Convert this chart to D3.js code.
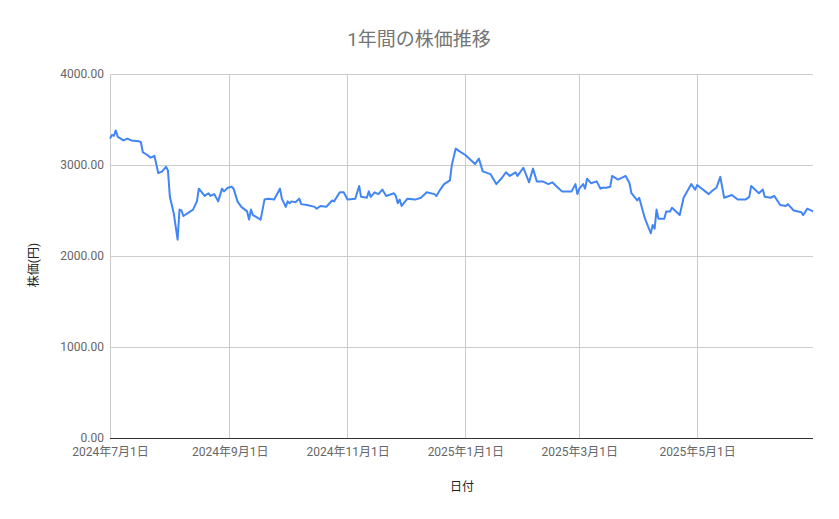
<!DOCTYPE html>
<html>
<head>
<meta charset="utf-8">
<script src="https://cdn.jsdelivr.net/npm/d3@7"></script>
<style>
  body { margin: 0; background: #fff; }
  svg text { font-family: Roboto, "Noto Sans CJK JP", sans-serif; }
</style>
</head>
<body>
<div id="vis"></div>
<script>
// dates (trading days) and closing prices
const dates = [
  "2024-07-01","2024-07-02","2024-07-03","2024-07-04","2024-07-05","2024-07-08","2024-07-10","2024-07-12",
  "2024-07-16","2024-07-17","2024-07-18","2024-07-21","2024-07-22","2024-07-24","2024-07-26","2024-07-28",
  "2024-07-30","2024-07-31","2024-08-01","2024-08-03","2024-08-05","2024-08-06","2024-08-07","2024-08-08",
  "2024-08-13","2024-08-15","2024-08-16","2024-08-19","2024-08-21","2024-08-22","2024-08-24","2024-08-26",
  "2024-08-28","2024-08-29","2024-08-31","2024-09-02","2024-09-03","2024-09-05","2024-09-07","2024-09-10",
  "2024-09-11","2024-09-12","2024-09-13","2024-09-17","2024-09-19","2024-09-21","2024-09-24","2024-09-27",
  "2024-09-28","2024-09-30","2024-10-01","2024-10-02","2024-10-03","2024-10-05","2024-10-07","2024-10-08",
  "2024-10-11","2024-10-15","2024-10-16","2024-10-18","2024-10-21","2024-10-24","2024-10-25","2024-10-28",
  "2024-10-30","2024-11-01","2024-11-05","2024-11-07","2024-11-08","2024-11-11","2024-11-12","2024-11-13",
  "2024-11-15","2024-11-17","2024-11-19","2024-11-21","2024-11-25","2024-11-26","2024-11-27","2024-11-28",
  "2024-11-29","2024-12-02","2024-12-06","2024-12-09","2024-12-12","2024-12-16","2024-12-17","2024-12-19",
  "2024-12-21","2024-12-24","2024-12-25","2024-12-27","2024-12-29","2025-01-01","2025-01-06","2025-01-08",
  "2025-01-10","2025-01-14","2025-01-17","2025-01-20","2025-01-22","2025-01-24","2025-01-27","2025-01-28",
  "2025-01-31","2025-02-03","2025-02-05","2025-02-07","2025-02-10","2025-02-13","2025-02-15","2025-02-17",
  "2025-02-20","2025-02-25","2025-02-27","2025-02-28","2025-03-01","2025-03-03","2025-03-04","2025-03-05",
  "2025-03-07","2025-03-10","2025-03-12","2025-03-13","2025-03-15","2025-03-17","2025-03-18","2025-03-21",
  "2025-03-25","2025-03-27","2025-03-28","2025-03-31","2025-04-01","2025-04-04","2025-04-07","2025-04-08",
  "2025-04-09","2025-04-10","2025-04-11","2025-04-14","2025-04-15","2025-04-17","2025-04-18","2025-04-22",
  "2025-04-24","2025-04-28","2025-04-30","2025-05-01","2025-05-07","2025-05-09","2025-05-11","2025-05-13",
  "2025-05-15","2025-05-19","2025-05-22","2025-05-26","2025-05-28","2025-05-29","2025-06-02","2025-06-04",
  "2025-06-05","2025-06-08","2025-06-10","2025-06-13","2025-06-16","2025-06-17","2025-06-20","2025-06-24",
  "2025-06-25","2025-06-27","2025-06-30"
];
const prices = [
  3290,3330,3320,3380,3310,3270,3290,3270,
  3260,3250,3140,3100,3080,3100,2910,2930,
  2980,2940,2650,2470,2180,2510,2500,2440,
  2510,2600,2740,2660,2690,2660,2680,2600,
  2740,2710,2750,2760,2740,2600,2540,2490,
  2400,2510,2450,2400,2620,2630,2620,2740,
  2630,2540,2600,2580,2600,2590,2630,2570,
  2560,2540,2520,2550,2540,2610,2600,2700,
  2700,2620,2630,2770,2650,2640,2710,2650,
  2700,2680,2730,2660,2690,2660,2580,2620,
  2550,2630,2620,2640,2700,2680,2660,2730,
  2790,2830,3000,3180,3150,3110,3010,3070,
  2930,2900,2790,2860,2920,2880,2920,2880,
  2970,2810,2960,2820,2820,2790,2810,2770,
  2710,2710,2790,2680,2740,2790,2740,2850,
  2800,2820,2740,2750,2750,2760,2880,2840,
  2880,2800,2690,2610,2640,2410,2250,2340,
  2300,2510,2410,2410,2490,2490,2530,2450,
  2640,2790,2730,2780,2680,2720,2750,2870,
  2640,2670,2620,2620,2650,2770,2690,2730,
  2650,2640,2660,2560,2550,2570,2500,2480,
  2450,2520,2490
];

const xDomain = ["2024-07-01", "2025-06-30"];
const xTicks = ["2024-07-01","2024-09-01","2024-11-01","2025-01-01","2025-03-01","2025-05-01"];
const yTicks = [0, 1000, 2000, 3000, 4000];

const titleText = "1年間の株価推移";
const xLabel = "日付";
const yLabel = "株価(円)";

const W = 839, H = 519;
const margin = {top: 74, right: 26, bottom: 81, left: 110};
const parse = d3.timeParse("%Y-%m-%d");

const data = dates.map((d, i) => ({date: parse(d), price: prices[i]}));

const svg = d3.select('#vis')
  .append('svg')
  .attr('width', W)
  .attr('height', H);

const xScale = d3.scaleTime()
  .domain(xDomain.map(parse))
  .range([margin.left, W - margin.right]);

const yScale = d3.scaleLinear()
  .domain([0, 4000])
  .range([H - margin.bottom, margin.top]);

// horizontal gridlines
svg.append('g')
  .selectAll('line')
  .data(yTicks.filter(v => v > 0))
  .join('line')
  .attr('x1', margin.left)
  .attr('x2', W - margin.right)
  .attr('y1', d => yScale(d))
  .attr('y2', d => yScale(d))
  .attr('stroke', '#cccccc')
  .attr('stroke-width', 1)
  .attr('shape-rendering', 'crispEdges');

// vertical gridlines
svg.append('g')
  .selectAll('line')
  .data(xTicks.map(parse))
  .join('line')
  .attr('x1', d => xScale(d))
  .attr('x2', d => xScale(d))
  .attr('y1', margin.top)
  .attr('y2', H - margin.bottom)
  .attr('stroke', '#cccccc')
  .attr('stroke-width', 1)
  .attr('shape-rendering', 'crispEdges');

// y tick labels
const yAxis = d3.axisLeft(yScale)
  .tickValues(yTicks)
  .tickFormat(d3.format('.2f'))
  .tickSize(0)
  .tickPadding(6);

svg.append('g')
  .attr('transform', `translate(${margin.left},0)`)
  .call(yAxis)
  .call(g => g.select('.domain').remove())
  .call(g => g.selectAll('text')
    .attr('font-size', 12)
    .attr('fill', '#666666')
    .style('font-family', 'Roboto, "Noto Sans CJK JP", sans-serif'));

// x tick labels
const fmtJa = d => `${d.getFullYear()}年${d.getMonth() + 1}月${d.getDate()}日`;
const xAxis = d3.axisBottom(xScale)
  .tickValues(xTicks.map(parse))
  .tickFormat(fmtJa)
  .tickSize(0)
  .tickPadding(9);

svg.append('g')
  .attr('transform', `translate(0,${H - margin.bottom})`)
  .call(xAxis)
  .call(g => g.select('.domain').remove())
  .call(g => g.selectAll('text')
    .attr('font-size', 12)
    .attr('fill', '#666666')
    .style('font-family', 'Roboto, "Noto Sans CJK JP", sans-serif'));

// baseline
svg.append('line')
  .attr('x1', margin.left)
  .attr('x2', W - margin.right)
  .attr('y1', yScale(0))
  .attr('y2', yScale(0))
  .attr('stroke', '#333333')
  .attr('stroke-width', 1)
  .attr('shape-rendering', 'crispEdges');

// price line
const line = d3.line()
  .x(d => xScale(d.date))
  .y(d => yScale(d.price));

svg.append('path')
  .datum(data)
  .attr('fill', 'none')
  .attr('stroke', '#4285f4')
  .attr('stroke-width', 2)
  .attr('stroke-linejoin', 'round')
  .attr('d', line);

// title
svg.append('text')
  .attr('x', 419)
  .attr('y', 46)
  .attr('text-anchor', 'middle')
  .attr('font-size', 19)
  .attr('fill', '#757575')
  .text(titleText);

// x label
svg.append('text')
  .attr('x', 462)
  .attr('y', 491)
  .attr('text-anchor', 'middle')
  .attr('font-size', 12)
  .attr('fill', '#222222')
  .text(xLabel);

// y label (rotated)
svg.append('text')
  .attr('transform', 'rotate(-90)')
  .attr('x', -265)
  .attr('y', 38)
  .attr('text-anchor', 'middle')
  .attr('font-size', 12)
  .attr('fill', '#222222')
  .text(yLabel);
</script>
</body>
</html>
